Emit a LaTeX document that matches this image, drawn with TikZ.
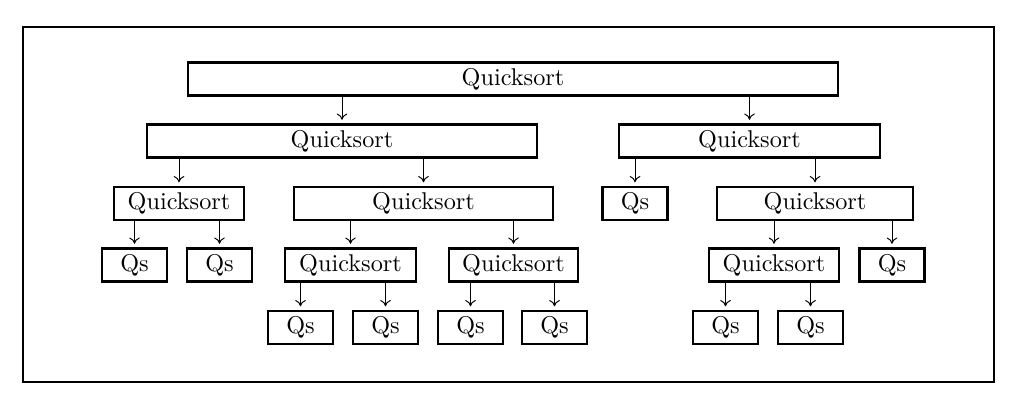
\documentclass[tikz,border=0pt]{standalone}
\usetikzlibrary{arrows.meta}
\begin{document}
\begin{tikzpicture}[x=0.4125pt, y=-0.4125pt, >={To[length=2.6pt, width=4.4pt]},
    box/.style={draw, line width=0.9pt, minimum height=13.6pt, inner sep=0pt},
    qs/.style={box, minimum width=26.8pt}]
            \useasboundingbox (0,0) rectangle (1018,405);
            \draw[line width=0.9pt] (23,27) rectangle (994,382);
            % Level 1
            \node[box, minimum width=268.1pt] (Q) at (513, 79) {Quicksort};
            % Level 2
            \node[box, minimum width=160.9pt] (QL) at (342, 141) {Quicksort};
            \node[box, minimum width=107.7pt] (QR) at (749.5, 141) {Quicksort};
            % Level 3
            \node[box, minimum width=53.6pt] (QLL) at (179, 203.5) {Quicksort};
            \node[box, minimum width=106.8pt] (QLR) at (423.5, 203.5) {Quicksort};
            \node[qs] (QRL) at (635, 203.5) {Qs};
            \node[box, minimum width=80.9pt] (QRR) at (815, 203.5) {Quicksort};
            % Level 4
            \node[qs] (QLLL) at (134.5, 265) {Qs};
            \node[qs] (QLLR) at (219.5, 265) {Qs};
            \node[box, minimum width=54pt] (QLRL) at (350.5, 265) {Quicksort};
            \node[box, minimum width=53.2pt] (QLRR) at (513.5, 265) {Quicksort};
            \node[box, minimum width=53.6pt] (QRRL) at (774, 265) {Quicksort};
            \node[qs] (QRRR) at (892, 265) {Qs};
            % Level 5
            \node[qs] (QLRLL) at (300.5, 327.5) {Qs};
            \node[qs] (QLRLR) at (385.5, 327.5) {Qs};
            \node[qs] (QLRRL) at (470.5, 327.5) {Qs};
            \node[qs] (QLRRR) at (554.5, 327.5) {Qs};
            \node[qs] (QRRLL) at (725.5, 327.5) {Qs};
            \node[qs] (QRRLR) at (810.5, 327.5) {Qs};

            \foreach \p/\c in {Q/QL, Q/QR, QL/QLL, QL/QLR, QR/QRL, QR/QRR,
                QLL/QLLL, QLL/QLLR, QLR/QLRL, QLR/QLRR, QRR/QRRL, QRR/QRRR,
                QLRL/QLRLL, QLRL/QLRLR, QLRR/QLRRL, QLRR/QLRRR, QRRL/QRRLL, QRRL/QRRLR}
                \draw [->, shorten >=1.5pt] (\p.south -| \c.north) -- (\c.north);
        \end{tikzpicture}
\end{document}
